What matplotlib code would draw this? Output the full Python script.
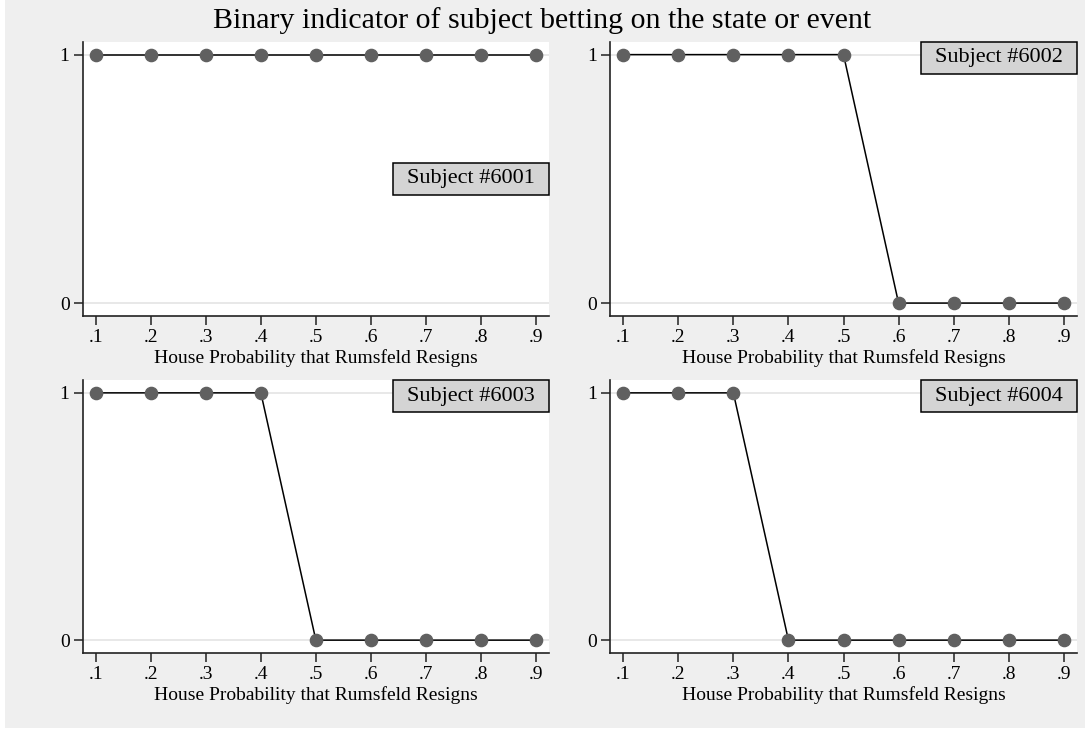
import numpy as np
import matplotlib
matplotlib.use("Agg")
import matplotlib.pyplot as plt
from matplotlib.patches import Rectangle

# 数据
prob = [0.1, 0.2, 0.3, 0.4, 0.5, 0.6, 0.7, 0.8, 0.9]
tick_labels = [".1", ".2", ".3", ".4", ".5", ".6", ".7", ".8", ".9"]
s6001 = [1, 1, 1, 1, 1, 1, 1, 1, 1]
s6002 = [1, 1, 1, 1, 1, 0, 0, 0, 0]
s6003 = [1, 1, 1, 1, 0, 0, 0, 0, 0]
s6004 = [1, 1, 1, 0, 0, 0, 0, 0, 0]
subjects = ["Subject #6001", "Subject #6002", "Subject #6003", "Subject #6004"]
series = [s6001, s6002, s6003, s6004]

title = "Binary indicator of subject betting on the state or event"
xlab = "House Probability that Rumsfeld Resigns"

plt.rcParams['font.family'] = ['Liberation Serif', 'DejaVu Serif']
bg = '#efefef'

fig = plt.figure(figsize=(10.85, 7.31), dpi=100, facecolor='white')
fig.patches.append(Rectangle((5 / 1085, 3 / 731), 1 - 5 / 1085, 1 - 3 / 731,
                             transform=fig.transFigure, facecolor=bg,
                             edgecolor='none', zorder=-10))

W, H = 1085.0, 731.0
# 各子图位置（像素）：左, 右, 上, 下
boxes = [(82.7, 549, 41.7, 316), (610, 1077, 41.7, 316),
         (82.7, 549, 380, 653), (610, 1077, 380, 653)]

for i, (l, r, t, b) in enumerate(boxes):
    ax = fig.add_axes([l / W, 1 - b / H, (r - l) / W, (b - t) / H])
    ax.set_facecolor('white')
    ax.plot(prob, series[i], '-', color='black', lw=1.1, zorder=3)
    ax.plot(prob, series[i], 'o', color='#606060', ms=8.8, mec='#606060', zorder=4)
    ax.set_xlim(0.1 - 0.024, 0.9 + 0.024)
    ax.set_ylim(-0.052, 1.052)
    ax.set_xticks(prob)
    ax.set_xticklabels(tick_labels)
    ax.set_yticks([0, 1])
    ax.set_yticklabels(["0", "1"])
    ax.yaxis.grid(True, color='#e6e6e6', lw=1.3)
    ax.set_axisbelow(True)
    for s in ['top', 'right']:
        ax.spines[s].set_visible(False)
    for s in ['left', 'bottom']:
        ax.spines[s].set_color('#222222')
        ax.spines[s].set_linewidth(1.2)
    ax.tick_params(axis='both', direction='out', length=6.5, width=1.1,
                   color='#222222', labelsize=14, pad=3)
    ax.set_xlabel(xlab, fontsize=14, labelpad=2)

    # 标签框
    bw, bh = 156 / (r - l), 32 / (b - t)
    if i == 0:
        y0 = 0.5 - bh / 2
    else:
        y0 = 1 - bh
    ax.add_patch(Rectangle((1 - bw, y0), bw, bh, transform=ax.transAxes,
                           facecolor='#d4d4d4', edgecolor='black', lw=1.1,
                           clip_on=False, zorder=6))
    ax.text(1 - bw / 2, y0 + bh / 2, subjects[i], transform=ax.transAxes,
            ha='center', va='center', fontsize=16, zorder=7)

fig.text(0.5, 1 - 21 / H, title, ha='center', va='center', fontsize=21.5)

fig.savefig('out.png', dpi=100, facecolor=fig.get_facecolor())
